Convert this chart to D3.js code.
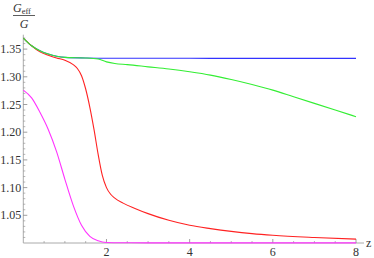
<!DOCTYPE html>
<html><head><meta charset="utf-8">
<script src="https://cdn.jsdelivr.net/npm/d3@7"></script>
<style>body{margin:0;background:#fff}svg{display:block}</style>
</head><body>
<svg id="c" width="374" height="258"></svg>
<script>
const zBlue = [0,0.2,0.4,0.6,0.8,1.0,1.5,2,3,4,5,6,7,8];
const gBlue = [1.370,1.356,1.347,1.341,1.337,1.335,1.334,1.3335,1.3334,1.3334,1.3333,1.3333,1.3333,1.3333];
const zGreen = [0,0.2,0.4,0.6,0.8,1.0,1.5,1.8,2.0,2.2,2.5,3,3.5,4,4.5,5,5.5,6,6.5,7,7.5,8];
const gGreen = [1.370,1.356,1.347,1.341,1.337,1.335,1.334,1.332,1.327,1.324,1.322,1.318,1.314,1.309,1.303,1.295,1.286,1.276,1.264,1.252,1.240,1.228];
const zRed = [0,0.2,0.4,0.6,0.8,1.0,1.2,1.3,1.4,1.5,1.6,1.7,1.8,1.9,2.0,2.1,2.2,2.4,2.7,3.0,3.5,4,4.5,5,5.5,6,7,8];
const gRed = [1.370,1.356,1.345,1.339,1.334,1.330,1.322,1.315,1.302,1.278,1.245,1.205,1.160,1.122,1.100,1.088,1.081,1.072,1.062,1.053,1.041,1.032,1.026,1.021,1.017,1.014,1.010,1.007];
const zMag = [0,0.2,0.4,0.6,0.8,1.0,1.2,1.4,1.6,1.8,2.0,2.5,3,4,5,6,7,8];
const gMag = [1.276,1.262,1.236,1.205,1.165,1.115,1.068,1.032,1.012,1.004,1.001,1.0005,1.0003,1.0003,1.0003,1.0003,1.0003,1.0003];
const xTicks = [2,4,6,8];
const yTicks = [1.05,1.10,1.15,1.20,1.25,1.30,1.35];

const FONT = "'Liberation Serif','Times New Roman','DejaVu Serif',serif";
const svg = d3.select("#c").attr("font-family",FONT);
const x = d3.scaleLinear().domain([0,8]).range([23.3,356]);
const y = d3.scaleLinear().domain([1.0,1.376]).range([243,34.7]);

const axisCol = "#aaa";
svg.append("line").attr("x1",x(0)).attr("x2",364).attr("y1",y(1)).attr("y2",y(1)).attr("stroke",axisCol).attr("stroke-width",1);
svg.append("line").attr("x1",x(0)).attr("x2",x(0)).attr("y1",y(1)).attr("y2",y(1.376)).attr("stroke",axisCol).attr("stroke-width",1);

const xMinor = d3.range(0.5,8.01,0.5).filter(v=>v%2!==0);
svg.selectAll(".xm").data(xMinor).enter().append("line").attr("x1",d=>x(d)).attr("x2",d=>x(d)).attr("y1",y(1)).attr("y2",y(1)-2).attr("stroke","#888").attr("stroke-width",0.6);
svg.selectAll(".xM").data(xTicks).enter().append("line").attr("x1",d=>x(d)).attr("x2",d=>x(d)).attr("y1",y(1)).attr("y2",y(1)-4).attr("stroke","#777").attr("stroke-width",0.7);
svg.selectAll(".xl").data(xTicks).enter().append("text").attr("x",d=>x(d)).attr("y",256).attr("text-anchor","middle").attr("font-size",12).attr("fill","#333").text(d=>d);

const yMinor = d3.range(1.01,1.376,0.01).filter(v=>Math.abs(Math.round(v*20)-v*20)>1e-6);
svg.selectAll(".ym").data(yMinor).enter().append("line").attr("x1",x(0)).attr("x2",x(0)+2).attr("y1",d=>y(d)).attr("y2",d=>y(d)).attr("stroke","#888").attr("stroke-width",0.6);
svg.selectAll(".yM").data(yTicks).enter().append("line").attr("x1",x(0)).attr("x2",x(0)+4).attr("y1",d=>y(d)).attr("y2",d=>y(d)).attr("stroke","#777").attr("stroke-width",0.7);
svg.selectAll(".yl").data(yTicks).enter().append("text").attr("x",x(0)-2).attr("y",d=>y(d)+4).attr("text-anchor","end").attr("font-size",12).attr("fill","#333").text(d=>d.toFixed(2));

svg.append("text").attr("x",366).attr("y",247).attr("font-size",12).attr("fill","#333").text("z");
const lab = svg.append("g").attr("fill","#333");
const num = lab.append("text").attr("x",13).attr("y",12).attr("font-size",12);
num.append("tspan").attr("font-style","italic").text("G");
num.append("tspan").attr("font-size",8.5).attr("dy",2).text("eff");
lab.append("line").attr("x1",13).attr("x2",35).attr("y1",15.5).attr("y2",15.5).attr("stroke","#333").attr("stroke-width",0.8);
lab.append("text").attr("x",24).attr("y",27.5).attr("text-anchor","middle").attr("font-size",12).attr("font-style","italic").text("G");

const line = d3.line().x(d=>x(d[0])).y(d=>y(d[1])).curve(d3.curveMonotoneX);
const series = [
  [zBlue,gBlue,"#3333ff"],
  [zMag,gMag,"#ff33ff"],
  [zRed,gRed,"#ff2222"],
  [zGreen,gGreen,"#33ee33"]
];
series.forEach(([zs,gs,c])=>{
  svg.append("path").datum(zs.map((z,i)=>[z,gs[i]])).attr("d",line).attr("fill","none").attr("stroke",c).attr("stroke-width",1.1);
});
</script>
</body></html>
